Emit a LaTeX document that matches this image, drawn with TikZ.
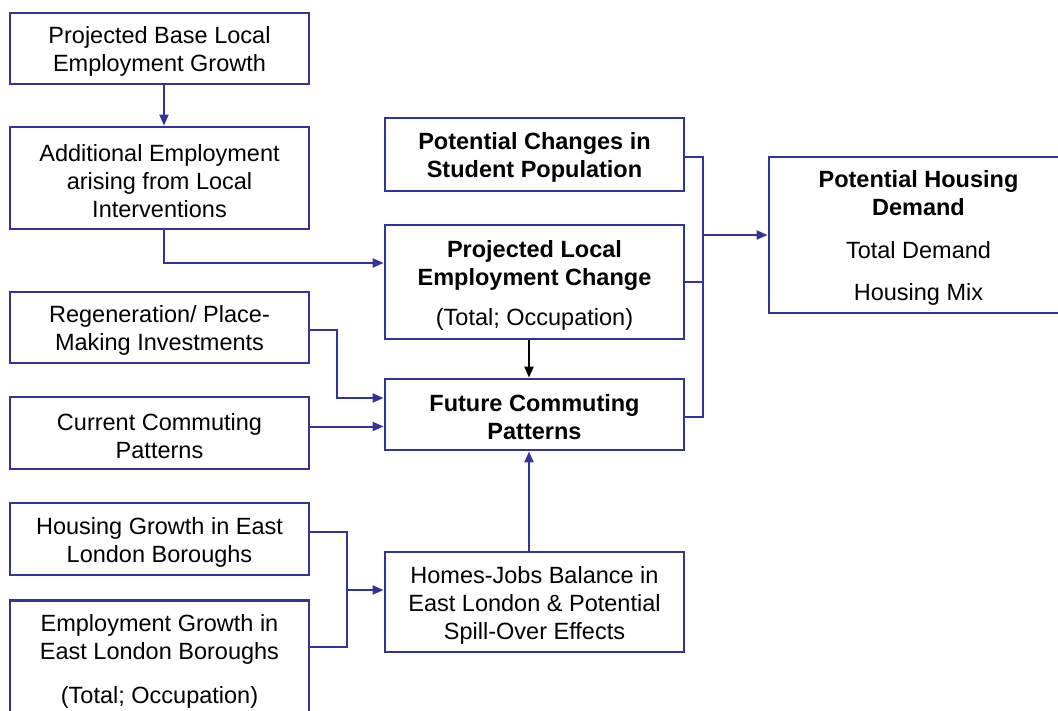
\documentclass[tikz,border=0pt]{standalone}
\usepackage{fontspec}
\setmainfont{Liberation Sans}
\usetikzlibrary{arrows.meta,calc}
\definecolor{boxblue}{RGB}{51,51,153}
\newcommand\tstrut{\rule{0pt}{23pt}}
\tikzset{
  box/.style={draw=boxblue, line width=2.8pt, fill=white, minimum width=299pt,
    align=center, inner sep=0pt, font=\fontsize{23.5}{28}\selectfont},
  conn/.style={draw=boxblue, line width=2pt},
  arr/.style={conn, -{Triangle[length=11pt,width=9pt]}},
  blackarr/.style={draw=black, line width=2pt, -{Triangle[length=11pt,width=9pt]}}
}
\begin{document}
\begin{tikzpicture}[x=1pt,y=-1pt]
\useasboundingbox (0,0) rectangle (1058,711);
\clip (0,0) rectangle (1058,711);
% left column
\node[box, minimum height=71pt] (A) at (159.5,48.5) {\tstrut Projected Base Local\\Employment Growth};
\node[box, minimum height=102pt] (B) at (159.5,178) {\tstrut Additional Employment\\arising from Local\\Interventions};
\node[box, minimum height=71pt] (G) at (159.5,327.5) {\tstrut Regeneration/ Place-\\Making Investments};
\node[box, minimum height=72pt] (H) at (159.5,433) {\tstrut Current Commuting\\Patterns};
\node[box, minimum height=72pt] (J) at (159.5,539) {\tstrut Housing Growth in East\\London Boroughs};
\node[box, anchor=north, inner ysep=8pt] (K) at (159.5,599) {\tstrut Employment Growth in\\East London Boroughs\\[16pt](Total; Occupation)\\[20pt]\mbox{}};
% middle column
\node[box, minimum height=73pt, font=\fontsize{23.5}{28}\selectfont\bfseries] (C) at (534.5,154.5) {\tstrut Potential Changes in\\Student Population};
\node[box, minimum height=114pt] (D) at (534.5,282) {\tstrut\textbf{Projected Local}\\\textbf{Employment Change}\\[12pt](Total; Occupation)};
\node[box, minimum height=71pt, font=\fontsize{23.5}{28}\selectfont\bfseries] (E) at (534.5,414.5) {\tstrut Future Commuting\\Patterns};
\node[box, minimum height=100pt] (I) at (534.5,602) {\tstrut Homes-Jobs Balance in\\East London \& Potential\\Spill-Over Effects};
% right
\node[box, minimum height=156pt] (F) at (918.5,235) {\tstrut\textbf{Potential Housing}\\\textbf{Demand}\\[15pt]Total Demand\\[14pt]Housing Mix};
% connectors
\draw[arr] ([xshift=4.5pt]A.south) -- ([xshift=4.5pt]B.north);
\draw[arr] ([xshift=4.5pt]B.south) |- ([yshift=19pt]D.west);
\draw[blackarr] ([xshift=-5.5pt]D.south) -- ([xshift=-5.5pt]E.north);
\draw[arr] ([xshift=-5.5pt]I.north) -- ([xshift=-5.5pt]E.south);
% bus to housing demand
\coordinate (bus) at (703,234);
\draw[conn] ([yshift=-2.5pt]C.east) -- ([yshift=-2.5pt]C.east -| bus) -- ([yshift=-2.5pt]E.east -| bus) -- ([yshift=-2.5pt]E.east);
\draw[conn] (D.east) -- (D.east -| bus);
\draw[arr] (bus |- F.west) -- (F.west);
% regeneration
\coordinate (gbend) at (337,330);
\draw[arr] ([yshift=-2.5pt]G.east) -- (gbend) |- ([yshift=16.5pt]E.west);
% current commuting
\draw[arr] ([yshift=6.5pt]H.east) -- ([yshift=6.5pt]H.east -| E.west);
% housing/employment growth to homes-jobs
\coordinate (jbus) at (347,590);
\draw[conn] ([yshift=7pt]J.east) -- ([yshift=7pt]J.east -| jbus) -- ([yshift=-48pt]K.north east -| jbus) -- ([yshift=-48pt]K.north east);
\draw[arr] (jbus) -- (jbus -| I.west);
\end{tikzpicture}
\end{document}
